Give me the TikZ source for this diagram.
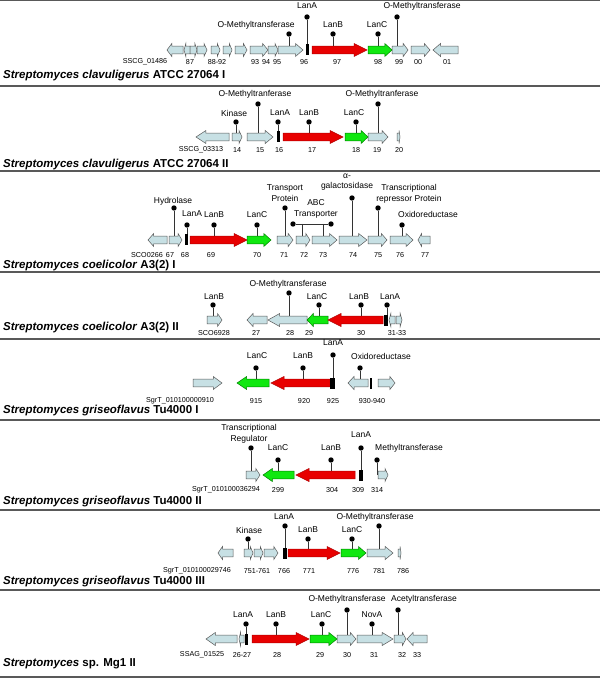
\documentclass[tikz,border=0pt]{standalone}
\usepackage{fontspec}
\setmainfont{Liberation Sans}
\usetikzlibrary{positioning}

\definecolor{genblue}{RGB}{199,224,228}
\definecolor{lanred}{RGB}{232,0,0}
\definecolor{langreen}{RGB}{16,232,16}

% gene arrow: tail x, tip x, row y
\newcommand{\gene}[4][bgene]{%
  \pgfmathsetmacro{\hb}{#3-min(0.3*abs(#3-#2),13)*(#3>#2?1:-1)}%
  \draw[gene,#1] (#2,#4-3.8) -- (\hb,#4-3.8) -- (\hb,#4-6.5) -- (#3,#4)
    -- (\hb,#4+6.5) -- (\hb,#4+3.8) -- (#2,#4+3.8) -- cycle;}
\newcommand{\blk}[3]{\fill[black] (#1,#3-5.5) rectangle (#2,#3+5.5);}
% lollipop: name, x, dot y, gene y, label x, label y, text
\newcommand{\lolli}[7]{%
  \node[dot] (#1) at (#2,#3) {};
  \coordinate (#1g) at (#2,#4);
  \draw[stem] (#1) -- (#1g);
  \node[lab] (#1t) at (#5,#6) {#7};}

\begin{document}
\begin{tikzpicture}[x=1pt, y=-1pt,
    bgene/.style={fill=genblue, draw=black!65},
    rgene/.style={fill=lanred, draw=red!70!black},
    ggene/.style={fill=langreen, draw=green!50!black},
    gene/.style={line width=0.5pt, line join=miter},
    dot/.style={circle, fill=black, inner sep=0pt, minimum size=5.4pt},
    stem/.style={draw=black!80, line width=0.6pt},
    lab/.style={font=\fontsize{8.5}{10.5}\selectfont, inner sep=0pt, align=center},
    num/.style={font=\fontsize{7.2}{8}\selectfont, inner sep=0pt},
    spec/.style={font=\fontsize{11.5}{13}\selectfont\bfseries, anchor=west, inner sep=0pt},
    sep/.style={draw=black!65, line width=1.3pt}
]
\useasboundingbox (0,0) rectangle (600,700);
\foreach \yy in {0.7,86,171,272,339,420,510,590,677} {\draw[sep] (0,\yy) -- (600,\yy);}

% clavuligerus I
\lolli{p1om}{289}{34}{50}{256}{25}{O-Methyltransferase}
\lolli{p1a}{307}{17}{50}{307}{6}{LanA}
\lolli{p1b}{333}{34}{50}{333}{25}{LanB}
\lolli{p1c}{378}{34}{50}{377}{25}{LanC}
\lolli{p1om2}{397}{17}{50}{422}{6}{O-Methyltransferase}
\foreach \ta/\tb in {183/167,190/184,190/197,197/207,211/220,223/232,235/247,250/268,268/278,278/303,392/408,411/430,458/433} {\gene{\ta}{\tb}{50}}
\blk{306}{309}{50}
\gene[rgene]{312}{367}{50}
\gene[ggene]{368}{392}{50}
\foreach \x/\s [count=\i] in {145/SSCG\_01486,190/87,217/88-92,255/93,266/94,277/95,304/96,337/97,378/98,399/99,418/00,447/01} {\node[num] (p1n\i) at (\x,62) {\s};}
\node[spec] (p1s) at (3,76) {\textit{Streptomyces clavuligerus} ATCC 27064 I};

% clavuligerus II
\lolli{p2k}{236}{122}{137}{234}{113}{Kinase}
\lolli{p2om}{258}{104}{137}{255}{94}{O-Methyltranferase}
\lolli{p2a}{278}{122}{137}{280}{113}{LanA}
\lolli{p2b}{309}{122}{137}{309}{113}{LanB}
\lolli{p2c}{356}{122}{137}{354}{113}{LanC}
\lolli{p2om2}{378}{104}{137}{382}{94}{O-Methyltranferase}
\foreach \ta/\tb in {229/196,232/242,247/273,368/388,397/400} {\gene{\ta}{\tb}{137}}
\blk{277}{280}{137}
\gene[rgene]{283}{343}{137}
\gene[ggene]{345}{368}{137}
\foreach \x/\s [count=\i] in {201/SSCG\_03313,237/14,260/15,279/16,312/17,356/18,377/19,399/20} {\node[num] (p2n\i) at (\x,150) {\s};}
\node[spec] (p2s) at (3,165) {\textit{Streptomyces clavuligerus} ATCC 27064 II};

% coelicolor I
\lolli{p3h}{174}{208}{240}{173}{201}{Hydrolase}
\lolli{p3a}{187}{225}{240}{192}{214}{LanA}
\lolli{p3b}{214}{225}{240}{214}{215}{LanB}
\lolli{p3c}{257}{225}{240}{257}{215}{LanC}
\lolli{p3tp}{285}{208}{240}{285}{193}{Transport\\Protein}
\lolli{p3gal}{352}{198}{240}{347}{182}{α-\\galactosidase}
\lolli{p3tr}{378}{208}{240}{409}{194}{Transcriptional\\repressor Protein}
\lolli{p3ox}{402}{225}{240}{428}{214}{Oxidoreductase}
\node[dot] (p3abc1) at (293,224) {};
\node[dot] (p3abc2) at (331,224) {};
\coordinate (p3abcl) at (302,224);
\coordinate (p3abcr) at (323,224);
\coordinate (p3abclg) at (302,240);
\coordinate (p3abcrg) at (323,240);
\draw[stem] (p3abc1) -- (p3abc2);
\draw[stem] (p3abcl) -- (p3abclg);
\draw[stem] (p3abcr) -- (p3abcrg);
\node[lab] (p3abct) at (316,209) {ABC\\Transporter};
\foreach \ta/\tb in {167/148,169/182,277/293,296/310,312/337,339/367,368/387,390/413,430/418} {\gene{\ta}{\tb}{240}}
\blk{185}{188}{240}
\gene[rgene]{190}{247}{240}
\gene[ggene]{247}{271}{240}
\foreach \x/\s [count=\i] in {147/SCO0266,170/67,185/68,211/69,257/70,284/71,304/72,323/73,353/74,378/75,400/76,425/77} {\node[num] (p3n\i) at (\x,255) {\s};}
\node[spec] (p3s) at (3,266) {\textit{Streptomyces coelicolor} A3(2) I};

% coelicolor II
\lolli{p4b}{213}{305}{320}{214}{297}{LanB}
\lolli{p4om}{289}{293}{320}{288}{284}{O-Methyltransferase}
\lolli{p4c}{319}{305}{320}{317}{297}{LanC}
\lolli{p4b2}{361}{305}{320}{359}{297}{LanB}
\lolli{p4a}{387}{305}{320}{390}{297}{LanA}
\foreach \ta/\tb in {207/222,267/247,307/268,395/389,396/402} {\gene{\ta}{\tb}{320}}
\gene[ggene]{328}{307}{320}
\gene[rgene]{383}{328}{320}
\blk{384}{388}{320}
\foreach \x/\s [count=\i] in {214/SCO6928,256/27,290/28,309/29,361/30,397/31-33} {\node[num] (p4n\i) at (\x,333) {\s};}
\node[spec] (p4s) at (3,328) {\textit{Streptomyces coelicolor} A3(2) II};

% griseoflavus I
\lolli{p5c}{256}{368}{383}{257}{356}{LanC}
\lolli{p5b}{303}{368}{383}{303}{356}{LanB}
\lolli{p5a}{333}{355}{383}{333}{343}{LanA}
\lolli{p5ox}{360}{368}{383}{381}{356}{Oxidoreductase}
\foreach \ta/\tb in {193/222,368/348,378/395} {\gene{\ta}{\tb}{383}}
\gene[ggene]{269}{237}{383}
\gene[rgene]{330}{271}{383}
\blk{330}{335}{383}
\blk{370}{372}{383}
\foreach \x/\s [count=\i] in {180/SgrT\_010100000910,256/915,304/920,333/925,372/930-940} {\node[num] (p5n\i) at (\x,401) {\s};}
\node[spec] (p5s) at (3,411) {\textit{Streptomyces griseoflavus} Tu4000 I};

% griseoflavus II
\lolli{p6tr}{251}{448}{475}{249}{434}{Transcriptional\\Regulator}
\lolli{p6c}{278}{460}{475}{278}{448}{LanC}
\lolli{p6b}{331}{460}{475}{331}{448}{LanB}
\lolli{p6a}{361}{448}{475}{361}{435}{LanA}
\lolli{p6mt}{377}{460}{475}{409}{448}{Methyltransferase}
\foreach \ta/\tb in {246/260,378/388} {\gene{\ta}{\tb}{475}}
\gene[ggene]{294}{263}{475}
\gene[rgene]{355}{296}{475}
\blk{359}{363}{475}
\foreach \x/\s [count=\i] in {226/SgrT\_010100036294,278/299,332/304,358/309,377/314} {\node[num] (p6n\i) at (\x,490) {\s};}
\node[spec] (p6s) at (3,502) {\textit{Streptomyces griseoflavus} Tu4000 II};

% griseoflavus III
\lolli{p7k}{248}{539}{553}{249}{530}{Kinase}
\lolli{p7a}{285}{526}{553}{284}{517}{LanA}
\lolli{p7b}{308}{539}{553}{308}{530}{LanB}
\lolli{p7c}{352}{539}{553}{352}{530}{LanC}
\lolli{p7om}{379}{526}{553}{375}{517}{O-Methyltransferase}
\foreach \ta/\tb in {233/218,244/253,254/263,264/278,367/393,398/401} {\gene{\ta}{\tb}{553}}
\blk{283}{287}{553}
\gene[rgene]{288}{340}{553}
\gene[ggene]{341}{366}{553}
\foreach \x/\s [count=\i] in {197/SgrT\_010100029746,257/751-761,284/766,309/771,353/776,379/781,403/786} {\node[num] (p7n\i) at (\x,571) {\s};}
\node[spec] (p7s) at (3,582) {\textit{Streptomyces griseoflavus} Tu4000 III};

% sp. Mg1 II
\lolli{p8a}{246}{624}{639}{243}{615}{LanA}
\lolli{p8b}{276}{624}{639}{276}{615}{LanB}
\lolli{p8c}{322}{624}{639}{321}{615}{LanC}
\lolli{p8om}{347}{610}{639}{347}{599}{O-Methyltransferase}
\lolli{p8nov}{372}{624}{639}{372}{615}{NovA}
\lolli{p8ac}{398}{610}{639}{424}{599}{Acetyltransferase}
\foreach \ta/\tb in {237/206,244/239,337/356,357/393,394/406,427/407} {\gene{\ta}{\tb}{639}}
\blk{245}{248}{639}
\gene[rgene]{252}{309}{639}
\gene[ggene]{310}{337}{639}
\foreach \x/\s [count=\i] in {202/SSAG\_01525,242/26-27,277/28,320/29,347/30,374/31,402/32,417/33} {\node[num] (p8n\i) at (\x,655) {\s};}
\node[spec] (p8s) at (3,664) {\textit{Streptomyces} sp. Mg1 II};
\end{tikzpicture}
\end{document}
